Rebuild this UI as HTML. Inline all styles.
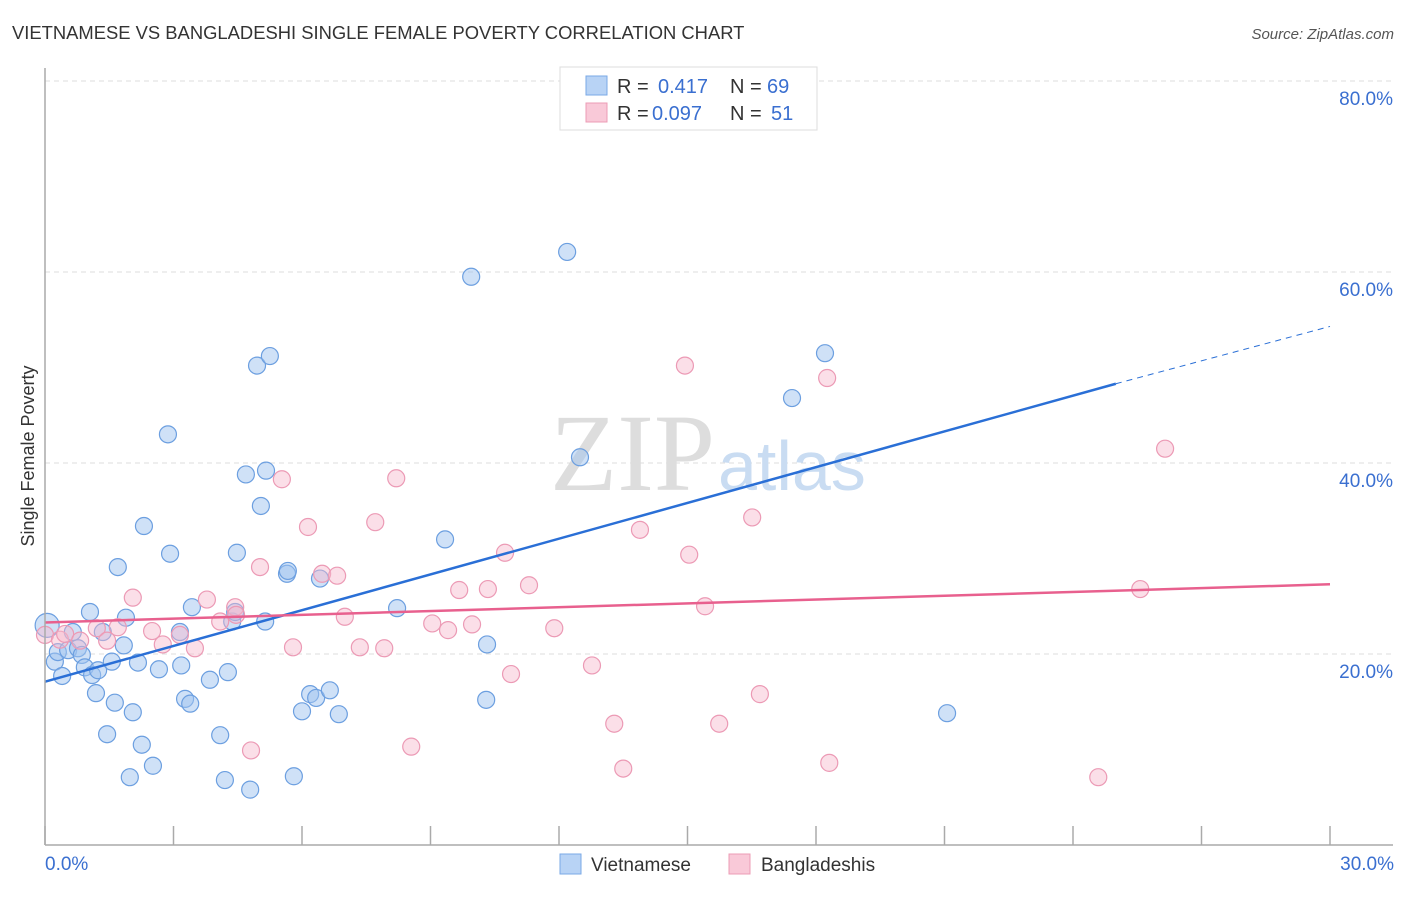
<!DOCTYPE html>
<html><head><meta charset="utf-8"><style>
body{margin:0;background:#fff;font-family:"Liberation Sans",sans-serif;}
svg text{font-family:"Liberation Sans",sans-serif;}
</style></head><body>
<svg id="chart" width="1406" height="892" xmlns="http://www.w3.org/2000/svg">
<text x="12" y="39" font-size="18.4" fill="#333">VIETNAMESE VS BANGLADESHI SINGLE FEMALE POVERTY CORRELATION CHART</text>
<text x="1394" y="39" font-size="15" fill="#555" font-style="italic" text-anchor="end">Source: ZipAtlas.com</text>
<text x="34" y="456" font-size="18" fill="#333" transform="rotate(-90 34 456)" text-anchor="middle">Single Female Poverty</text>
<g id="grid"></g>
<text x="715" y="490" font-size="110" fill="#ddd" text-anchor="end" style="font-family:'Liberation Serif',serif">ZIP</text>
<text x="718" y="490" font-size="70" fill="#c9dcf2">atlas</text>
<g id="points"></g>
<g id="lines"></g>
<line x1="45" y1="68" x2="45" y2="845" stroke="#aaa" stroke-width="1.5"/>
<line x1="45" y1="845" x2="1393" y2="845" stroke="#aaa" stroke-width="1.5"/>
<g id="ticks"></g>
<text x="45" y="870" font-size="19" fill="#3a6fd0">0.0%</text>
<text x="1394" y="870" font-size="19" fill="#3a6fd0" text-anchor="end">30.0%</text>
<g>
<rect x="560" y="67" width="257" height="63" fill="#fff" stroke="#ddd"/>
<rect x="586" y="76" width="21" height="19" fill="#b8d3f5" stroke="#7aa8e6"/>
<rect x="586" y="103" width="21" height="19" fill="#f9c9d8" stroke="#ec9cb6"/>
<text x="617" y="93" font-size="20" fill="#333">R = </text><text x="658" y="93" font-size="20" fill="#3a6fd0">0.417</text>
<text x="730" y="93" font-size="20" fill="#333">N = </text><text x="767" y="93" font-size="20" fill="#3a6fd0">69</text>
<text x="617" y="120" font-size="20" fill="#333">R = </text><text x="652" y="120" font-size="20" fill="#3a6fd0">0.097</text>
<text x="730" y="120" font-size="20" fill="#333">N = </text><text x="771" y="120" font-size="20" fill="#3a6fd0">51</text>
</g>
<g>
<rect x="560" y="854" width="21" height="20" fill="#b8d3f5" stroke="#7aa8e6"/>
<text x="591" y="871" font-size="19" fill="#333">Vietnamese</text>
<rect x="729" y="854" width="21" height="20" fill="#f9c9d8" stroke="#ec9cb6"/>
<text x="761" y="871" font-size="19" fill="#333">Bangladeshis</text>
</g>
</svg>
<script>
const yTicks=[20,40,60,80];
const yTickLabels=["20.0%","40.0%","60.0%","80.0%"];
const xTickVals=[0,3,6,9,12,15,18,21,24,27,30];
const blueX=[0.05,0.23,0.4,0.3,0.54,0.65,0.77,0.86,1.05,0.93,1.1,1.24,1.19,1.35,1.45,1.56,1.63,1.7,1.89,1.84,1.98,2.05,2.17,2.26,2.31,2.52,2.66,2.92,2.87,3.18,3.15,3.27,3.39,3.43,3.85,4.09,4.2,4.27,4.37,4.44,4.48,4.69,4.79,4.95,5.04,5.14,5.16,5.25,5.65,5.67,5.81,6.0,6.19,6.33,6.42,6.65,6.86,8.22,9.34,9.95,10.32,10.3,12.19,12.49,17.44,18.21,21.06];
const blueY=[23.0,19.2,17.7,20.2,20.4,22.3,20.6,19.9,24.4,18.6,17.8,18.3,15.9,22.3,11.6,19.2,14.9,29.1,23.8,20.9,7.1,13.9,19.1,10.5,33.4,8.3,18.4,30.5,43.0,18.8,22.3,15.3,14.8,24.9,17.3,11.5,6.8,18.1,23.4,24.4,30.6,38.8,5.8,50.2,35.5,23.4,39.2,51.2,28.4,28.7,7.2,14.0,15.8,15.4,27.9,16.2,13.7,24.8,32.0,59.5,21.0,15.2,62.1,40.6,46.8,51.5,13.8];
const pinkX=[0,0.35,0.47,0.82,1.21,1.45,1.7,2.05,2.5,2.75,3.15,3.5,3.78,4.09,4.44,4.46,4.81,5.02,5.53,5.79,6.14,6.47,6.82,7.0,7.35,7.71,7.92,8.2,8.55,9.04,9.41,9.67,9.97,10.34,10.74,10.88,11.3,11.89,12.77,13.29,13.5,13.89,14.94,15.04,15.41,15.74,16.51,16.69,18.26,18.31,24.59,25.57,26.15];
const pinkY=[22.0,21.5,22.1,21.4,22.7,21.4,22.8,25.9,22.4,21.0,22.0,20.6,25.7,23.4,24.9,24.1,9.9,29.1,38.3,20.7,33.3,28.4,28.2,23.9,20.7,33.8,20.6,38.4,10.3,23.2,22.5,26.7,23.1,26.8,30.6,17.9,27.2,22.7,18.8,12.7,8.0,33.0,50.2,30.4,25.0,12.7,34.3,15.8,48.9,8.6,7.1,26.8,41.5];
const blueTrend=[17.1,48.3,54.3];
const pinkTrend=[23.3,27.3];
const X=v=>45+v*(1285/30);
const Y=v=>845-v*9.55;
const NS="http://www.w3.org/2000/svg";
function mk(tag,attrs,parent){const e=document.createElementNS(NS,tag);for(const k in attrs)e.setAttribute(k,attrs[k]);parent.appendChild(e);return e;}
const grid=document.getElementById('grid');
yTicks.forEach((t,i)=>{
  const l=mk('line',{x1:45,x2:1393,y1:Y(t),y2:Y(t),stroke:'#ddd','stroke-dasharray':'5,4'},grid);
  
  
  const tx=mk('text',{x:1393,y:Y(t)+24,'font-size':19,fill:'#3a6fd0','text-anchor':'end'},grid);
  
  
  tx.textContent=yTickLabels[i];
});
const tk=document.getElementById('ticks');
xTickVals.forEach(v=>{
  const l=mk('line',{x1:X(v),x2:X(v),y1:826,y2:845,stroke:'#aaa','stroke-width':1.5},tk);
  
  
});
const pts=document.getElementById('points');
blueX.forEach((x,i)=>{
  const c=mk('circle',{cx:X(x),cy:Y(blueY[i]),r:i===0?12:8.5,fill:'rgba(160,196,240,0.5)',stroke:'#6c9fe0','stroke-width':1.2},pts);
  
  
});
pinkX.forEach((x,i)=>{
  const c=mk('circle',{cx:X(x),cy:Y(pinkY[i]),r:8.5,fill:'rgba(247,184,204,0.45)',stroke:'#ec9ab5','stroke-width':1.2},pts);
  
  
});
const ln=document.getElementById('lines');
const b1=mk('line',{x1:X(0),y1:Y(blueTrend[0]),x2:X(25),y2:Y(blueTrend[1]),stroke:'#2a6fd6','stroke-width':2.5},ln);


const b2=mk('line',{x1:X(25),y1:Y(blueTrend[1]),x2:X(30),y2:Y(blueTrend[2]),stroke:'#2a6fd6','stroke-width':1,'stroke-dasharray':'6,5'},ln);


const p1=mk('line',{x1:X(0),y1:Y(pinkTrend[0]),x2:X(30),y2:Y(pinkTrend[1]),stroke:'#e8608e','stroke-width':2.5},ln);


</script>
</body></html>
